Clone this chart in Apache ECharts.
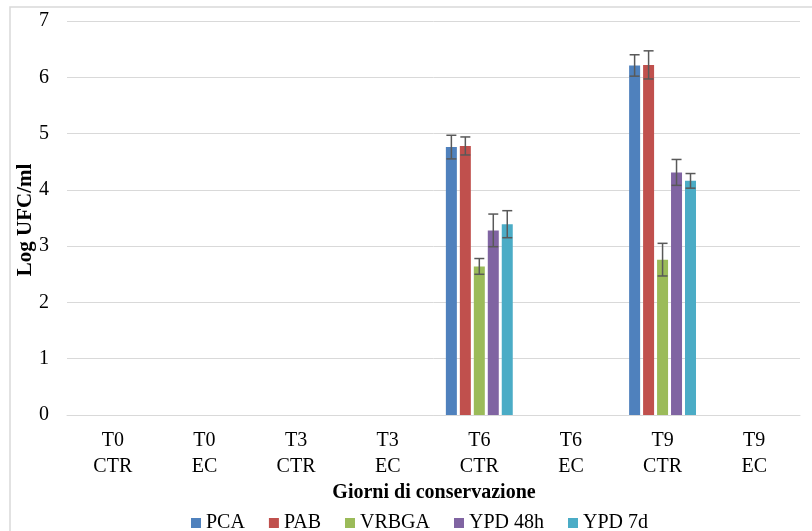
<!DOCTYPE html>
<html>
<head>
<meta charset="utf-8">
<script src="https://cdn.jsdelivr.net/npm/echarts@6/dist/echarts.min.js"></script>
<style>
  html, body { margin: 0; padding: 0; background: #ffffff; }
  #chart { width: 812px; height: 531px; }
</style>
</head>
<body>
<div id="chart"></div>
<script>
// Sampling days and treatment groups
const categories = ['T0\nCTR', 'T0\nEC', 'T3\nCTR', 'T3\nEC', 'T6\nCTR', 'T6\nEC', 'T9\nCTR', 'T9\nEC'];

// Mean counts (Log UFC/ml) per culture medium; null = not determined
const pca    = [null, null, null, null, 4.76, null, 6.21, null];
const pab    = [null, null, null, null, 4.78, null, 6.22, null];
const vrbga  = [null, null, null, null, 2.64, null, 2.76, null];
const ypd48h = [null, null, null, null, 3.28, null, 4.31, null];
const ypd7d  = [null, null, null, null, 3.39, null, 4.16, null];

// Standard deviations
const pcaSd    = [null, null, null, null, 0.21, null, 0.19, null];
const pabSd    = [null, null, null, null, 0.16, null, 0.25, null];
const vrbgaSd  = [null, null, null, null, 0.14, null, 0.29, null];
const ypd48hSd = [null, null, null, null, 0.29, null, 0.23, null];
const ypd7dSd  = [null, null, null, null, 0.24, null, 0.13, null];

const seriesNames = ['PCA', 'PAB', 'VRBGA', 'YPD 48h', 'YPD 7d'];
const seriesValues = [pca, pab, vrbga, ypd48h, ypd7d];
const seriesSd = [pcaSd, pabSd, vrbgaSd, ypd48hSd, ypd7dSd];
const colors = ['#4F81BD', '#C0504D', '#9BBB59', '#8064A2', '#4BACC6'];

const yTicks = [0, 1, 2, 3, 4, 5, 6, 7];

const GAP = 0.27;
const FONT = '"Liberation Serif", "Times New Roman", serif';

const chart = echarts.init(document.getElementById('chart'), null, { renderer: 'canvas' });

const barSeries = seriesNames.map((name, i) => ({
  name: name,
  type: 'bar',
  data: seriesValues[i],
  barGap: (GAP * 100) + '%',
  barCategoryGap: (GAP * 100) + '%',
  itemStyle: { color: colors[i] },
  emphasis: { disabled: true },
  z: 2
}));

// Error bars drawn on top of each bar, placed with the category scale
const errorSeries = seriesNames.map((name, i) => ({
  type: 'custom',
  name: name + ' sd',
  z: 5,
  silent: true,
  data: seriesValues[i].map((v, k) => v == null ? null : [k, v, seriesSd[i][k]]).filter(d => d),
  renderItem: function (params, api) {
    const k = api.value(0), v = api.value(1), sd = api.value(2);
    const catW = api.size([1, 0])[0];
    const n = seriesNames.length;
    const barW = catW * (1 - GAP) / (n + (n - 1) * GAP);
    const groupW = n * barW + (n - 1) * GAP * barW;
    const off = -groupW / 2 + i * barW * (1 + GAP) + barW / 2;
    const top = api.coord([k, v + sd]);
    const bot = api.coord([k, v - sd]);
    const x = top[0] + off;
    const cap = 5;
    const style = { stroke: '#595959', lineWidth: 1.5 };
    return {
      type: 'group',
      children: [
        { type: 'line', shape: { x1: x, y1: top[1], x2: x, y2: bot[1] }, style: style },
        { type: 'line', shape: { x1: x - cap, y1: top[1], x2: x + cap, y2: top[1] }, style: style },
        { type: 'line', shape: { x1: x - cap, y1: bot[1], x2: x + cap, y2: bot[1] }, style: style }
      ]
    };
  }
}));

chart.setOption({
  animation: false,
  backgroundColor: '#ffffff',
  grid: { left: 67, right: 12, top: 21, bottom: 116, containLabel: false },
  legend: {
    data: seriesNames,
    left: 186,
    top: 508,
    icon: 'rect',
    itemWidth: 10,
    itemHeight: 10,
    itemGap: 24,
    textStyle: { fontFamily: FONT, fontSize: 20, color: '#000000', padding: [0, 0, 0, 0] }
  },
  xAxis: {
    type: 'category',
    data: categories,
    axisLine: { show: true, lineStyle: { color: '#d9d9d9', width: 1 } },
    axisTick: { show: false },
    axisLabel: {
      interval: 0,
      margin: 13,
      fontFamily: FONT,
      fontSize: 20,
      lineHeight: 26,
      color: '#000000'
    }
  },
  yAxis: {
    type: 'value',
    min: yTicks[0],
    max: yTicks[yTicks.length - 1],
    interval: 1,
    axisLine: { show: false },
    axisTick: { show: false },
    splitLine: { lineStyle: { color: '#d9d9d9', width: 1 } },
    axisLabel: { margin: 18, fontFamily: FONT, fontSize: 20, color: '#000000' }
  },
  graphic: [
    {
      type: 'rect',
      shape: { x: 10, y: 7, width: 830, height: 560 },
      style: { fill: 'none', stroke: '#d9d9d9', lineWidth: 1.5 },
      silent: true, z: -1
    },
    {
      type: 'text',
      x: 434, y: 493,
      style: {
        text: 'Giorni di conservazione',
        font: 'bold 20px ' + FONT,
        fill: '#000000',
        textAlign: 'center',
        textVerticalAlign: 'middle'
      }
    },
    {
      type: 'text',
      x: 26, y: 220,
      rotation: Math.PI / 2,
      style: {
        text: 'Log UFC/ml',
        font: 'bold 21px ' + FONT,
        fill: '#000000',
        textAlign: 'center',
        textVerticalAlign: 'middle'
      }
    }
  ],
  series: barSeries.concat(errorSeries)
});
</script>
</body>
</html>
